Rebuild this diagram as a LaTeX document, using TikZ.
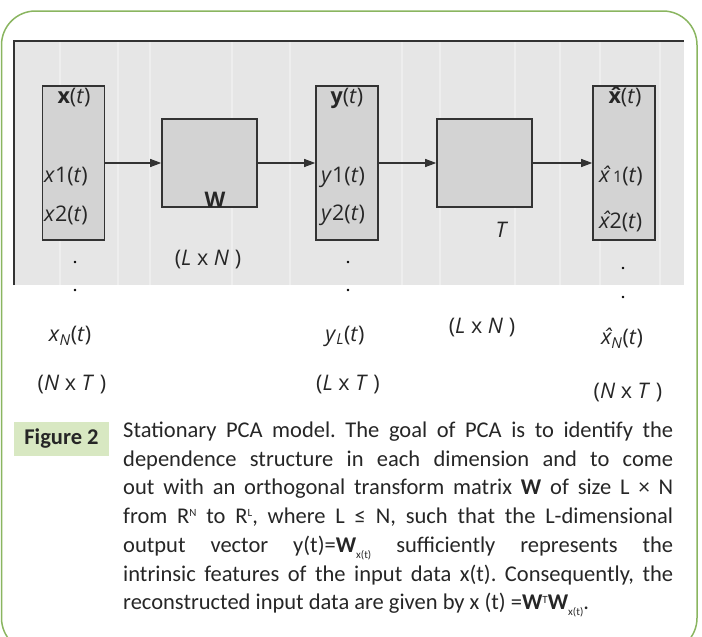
\documentclass[tikz,border=0pt]{standalone}
\usepackage{fontspec}
\setmainfont{Carlito}
\newfontfamily\lblfont{Open Sans}
\usetikzlibrary{arrows.meta}
\definecolor{framegreen}{HTML}{8AB560}
\definecolor{tagfill}{HTML}{D8E8C2}
\definecolor{panelgray}{HTML}{E6E6E6}
\definecolor{boxgray}{HTML}{D3D3D3}
\definecolor{edgedark}{HTML}{333333}
\tikzset{
  vecbox/.style={draw=edgedark, line width=1.6pt, fill=boxgray, minimum width=62pt, minimum height=154pt, inner sep=0pt},
  mapbox/.style={draw=edgedark, line width=1.6pt, fill=boxgray, minimum width=95pt, minimum height=88pt, inner sep=0pt},
  lbl/.style={font=\lblfont\fontsize{21.5}{21.5}\selectfont, inner sep=0pt, text=black!85},
  arr/.style={line width=1.1pt, draw=edgedark, -{Triangle[length=11pt,width=8pt]}},
  vdot/.style={circle, fill=black, inner sep=0pt, minimum size=2.6pt},
  capline/.style={anchor=north west, inner sep=0pt, font=\fontsize{22.5}{22.5}\selectfont, text=black!85}
}
\newcommand{\jline}[1]{\makebox[550pt][s]{#1}}
\newcommand{\subxt}{\raisebox{-6pt}{\fontsize{11}{11}\selectfont x(t)}}
\newcommand{\supsm}[1]{\raisebox{6.5pt}{\fontsize{11}{11}\selectfont #1}}
% a letter with a circumflex set above it
\newcommand{\hatted}[1]{\ooalign{#1\cr\hidewidth\kern0.12em\raisebox{0.02em}{ˆ}\hidewidth\cr}}
\frenchspacing
\begin{document}
\begin{tikzpicture}[x=1pt, y=-1pt]
\useasboundingbox (0,0) rectangle (702,637);
% outer frame (its lower edge runs past the page)
\begin{scope}
\clip (0,0) rectangle (702,637);
\draw[framegreen, line width=1.5pt, rounded corners=34pt] (1.5,11) rectangle (697,652);
\end{scope}
% grey diagram panel
\fill[panelgray] (14,41) rectangle (684,285);
\foreach \sx in {60,118,150,232,290,402,440,515,560,600,660}
  \draw[white, opacity=0.35, line width=1.2pt] (\sx,42) -- (\sx,285);
\draw[edgedark, line width=1.3pt] (14,285) -- (14,41) -- (684,41);

% blocks
\node[vecbox] (xv) at (73.5,163) {};
\node[mapbox] (W) at (209.5,163) {};
\node[vecbox] (yv) at (347,163) {};
\node[mapbox] (T) at (484.5,163) {};
\node[vecbox] (xh) at (624,163) {};

\draw[arr] (xv.east) -- (W.west);
\draw[arr] (W.east) -- (yv.west);
\draw[arr] (yv.east) -- (T.west);
\draw[arr] (T.east) -- (xh.west);

% labels in the vector blocks
\node[lbl] (xlab) at (74,98) {\textbf{x}(\textit{t})};
\node[lbl, anchor=west] (x1) at (44,177) {\textit{x}1(\textit{t})};
\node[lbl, anchor=west] (x2) at (44,215) {\textit{x}2(\textit{t})};
\node[lbl] (ylab) at (347,98) {\textbf{y}(\textit{t})};
\node[lbl, anchor=west] (y1) at (321,177) {\textit{y}1(\textit{t})};
\node[lbl, anchor=west] (y2) at (321,215) {\textit{y}2(\textit{t})};
\node[lbl] (xhlab) at (625,98) {\textbf{\hatted{x}}(\textit{t})};
\node[lbl, anchor=west] (xh1) at (599,177) {\textit{\hatted{x}}\,{\fontsize{16}{16}\selectfont 1}(\textit{t})};
\node[lbl, anchor=west] (xh2) at (599,222) {\textit{\hatted{x}}2(\textit{t})};

\node[lbl, font=\lblfont\bfseries\fontsize{21.5}{21.5}\selectfont] (wlab) at (215,200) {W};
\node[lbl] (tlab) at (502,230) {\textit{T}};
\node[lbl] (dim1) at (208,260) {(\textit{L} x \textit{N} )};

% continuation dots
\node[vdot] (d1) at (75,262) {};
\node[vdot] (d2) at (75,290) {};
\node[vdot] (d3) at (348,262) {};
\node[vdot] (d4) at (348,290) {};
\node[vdot] (d5) at (623,268) {};
\node[vdot] (d6) at (623,297) {};

% labels below the panel
\node[lbl] (xn) at (70,336) {\textit{x}\textsubscript{\textit{N}}(\textit{t})};
\node[lbl] (yl) at (345,336) {\textit{y}\textsubscript{\textit{L}}(\textit{t})};
\node[lbl] (dim2) at (482,328) {(\textit{L} x \textit{N} )};
\node[lbl] (xhn) at (622,339) {\textit{\hatted{x}}\textsubscript{\textit{N}}(\textit{t})};
\node[lbl] (s1) at (72,385) {(\textit{N} x \textit{T} )};
\node[lbl] (s2) at (348,385) {(\textit{L} x \textit{T} )};
\node[lbl] (s3) at (628,393) {(\textit{N} x \textit{T} )};

% caption
\node[fill=tagfill, minimum width=95pt, minimum height=34pt, inner sep=0pt,
      font=\bfseries\fontsize{22.5}{22.5}\selectfont, text=black!85] (tag) at (61.5,439) {Figure 2};
\node[capline] (c1) at (123,422) {\jline{Stationary PCA model. The goal of PCA is to identify the}};
\node[capline] (c2) at (123,450.5) {\jline{dependence structure in each dimension and to come}};
\node[capline] (c3) at (123,479) {\jline{out with an orthogonal transform matrix \textbf{W} of size L × N}};
\node[capline] (c4) at (123,507.5) {\jline{from R\supsm{N} to R\supsm{L}, where L ≤ N, such that the L-dimensional}};
\node[capline] (c5) at (123,536) {\jline{output vector y(t)=\textbf{W}\subxt{} sufficiently represents the}};
\node[capline] (c6) at (123,564.5) {\jline{intrinsic features of the input data x(t). Consequently, the}};
\node[capline] (c7) at (123,593) {reconstructed input data are given by x (t) =\textbf{W}\supsm{T}\textbf{W}\subxt.};
\end{tikzpicture}
\end{document}
